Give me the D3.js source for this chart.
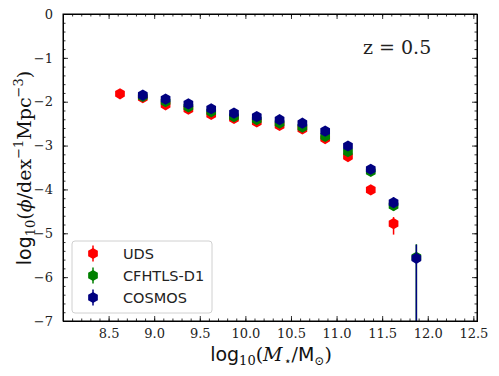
<!doctype html>
<html>
<head>
<meta charset="utf-8">
<script src="https://d3js.org/d3.v7.min.js"></script>
<style>
  body { margin: 0; background: #fff; }
  .tick text { font-family: "DejaVu Serif", serif; font-size: 13px; }
</style>
</head>
<body>
<svg id="chart" width="499" height="376"></svg>
<script>
// log10 stellar mass bin centres
var massUDS = [8.625, 8.875, 9.125, 9.375, 9.625, 9.875, 10.125, 10.375, 10.625, 10.875, 11.125, 11.375, 11.625];
var phiUDS  = [-1.82, -1.91, -2.07, -2.17, -2.29, -2.38, -2.46, -2.54, -2.62, -2.84, -3.25, -4.01, -4.78];
var errUDSlo = [0.05, 0.05, 0.05, 0.05, 0.05, 0.05, 0.05, 0.05, 0.05, 0.05, 0.06, 0.08, 0.25];
var errUDShi = [0.05, 0.05, 0.05, 0.05, 0.05, 0.05, 0.05, 0.05, 0.05, 0.05, 0.06, 0.08, 0.15];

var massCFHT = [8.875, 9.125, 9.375, 9.625, 9.875, 10.125, 10.375, 10.625, 10.875, 11.125, 11.375, 11.625, 11.875];
var phiCFHT  = [-1.88, -2.00, -2.12, -2.23, -2.34, -2.41, -2.49, -2.58, -2.79, -3.14, -3.59, -4.37, -5.55];
var errCFHTlo = [0.05, 0.05, 0.05, 0.05, 0.05, 0.05, 0.05, 0.05, 0.05, 0.06, 0.07, 0.12, 2.0];
var errCFHThi = [0.05, 0.05, 0.05, 0.05, 0.05, 0.05, 0.05, 0.05, 0.05, 0.06, 0.07, 0.12, 0.3];

var massCOSMOS = [8.875, 9.125, 9.375, 9.625, 9.875, 10.125, 10.375, 10.625, 10.875, 11.125, 11.375, 11.625, 11.875];
var phiCOSMOS  = [-1.85, -1.94, -2.05, -2.16, -2.26, -2.34, -2.41, -2.49, -2.67, -3.01, -3.54, -4.30, -5.57];
var errCOSMOSlo = [0.05, 0.05, 0.05, 0.05, 0.05, 0.05, 0.05, 0.05, 0.05, 0.06, 0.07, 0.12, 2.0];
var errCOSMOShi = [0.05, 0.05, 0.05, 0.05, 0.05, 0.05, 0.05, 0.05, 0.05, 0.06, 0.07, 0.12, 0.31];

var seriesNames = ["UDS", "CFHTLS-D1", "COSMOS"];
var seriesColors = ["#ff0000", "#008000", "#000080"];

var xTicks = [8.5, 9.0, 9.5, 10.0, 10.5, 11.0, 11.5, 12.0, 12.5];
var yTicks = [0, -1, -2, -3, -4, -5, -6, -7];

var series = [
    {name: seriesNames[0], color: seriesColors[0], x: massUDS, y: phiUDS, lo: errUDSlo, hi: errUDShi},
    {name: seriesNames[1], color: seriesColors[1], x: massCFHT, y: phiCFHT, lo: errCFHTlo, hi: errCFHThi},
    {name: seriesNames[2], color: seriesColors[2], x: massCOSMOS, y: phiCOSMOS, lo: errCOSMOSlo, hi: errCOSMOShi}
];

var margin = {top: 14, right: 22, bottom: 55, left: 63},
    width = 499, height = 376;

var svg = d3.select("#chart");

var x = d3.scaleLinear().domain([8.0, 12.54]).range([margin.left, width - margin.right]);
var y = d3.scaleLinear().domain([-7, 0]).range([height - margin.bottom, margin.top]);

// clip
svg.append("clipPath").attr("id", "clip")
    .append("rect")
    .attr("x", margin.left).attr("y", margin.top)
    .attr("width", x.range()[1] - margin.left)
    .attr("height", y.range()[0] - margin.top);

// hexagon, pointy top
var r = 5.6;
var hex = d3.range(6).map(function(i) {
    var a = Math.PI / 3 * i - Math.PI / 2;
    return [r * Math.cos(a), r * Math.sin(a)];
});
var hexPath = "M" + hex.map(p => p[0].toFixed(2) + "," + p[1].toFixed(2)).join("L") + "Z";

var plot = svg.append("g").attr("clip-path", "url(#clip)");

series.forEach(function(s) {
    var g = plot.append("g");
    var pts = s.x.map((d, i) => ({x: d, y: s.y[i], lo: s.lo[i], hi: s.hi[i]}));
    g.selectAll("line")
        .data(pts)
        .enter().append("line")
        .attr("x1", d => x(d.x)).attr("x2", d => x(d.x))
        .attr("y1", d => y(d.y + d.hi)).attr("y2", d => y(d.y - d.lo))
        .attr("stroke", s.color)
        .attr("stroke-width", 1.5);
    g.selectAll("path")
        .data(pts)
        .enter().append("path")
        .attr("d", hexPath)
        .attr("transform", d => `translate(${x(d.x)},${y(d.y)})`)
        .attr("fill", s.color);
});

// axes, ticks pointing in on all four sides
function minor(scale, step) {
    var dom = scale.domain();
    var lo = Math.ceil(Math.min(dom[0], dom[1]) / step - 1e-6), hi = Math.floor(Math.max(dom[0], dom[1]) / step + 1e-6);
    return d3.range(lo, hi + 1).map(k => +(k * step).toFixed(3));
}

var fmtX = d => d.toFixed(1);
var fmtY = d => d3.format("d")(d).replace("-", "\u2212");

var xb = y.range()[0], xt = y.range()[1], yl = x.range()[0], yr = x.range()[1];

svg.append("g").attr("transform", `translate(0,${xb})`)
    .call(d3.axisBottom(x).tickValues(minor(x, 0.1)).tickSize(-2.5).tickFormat(""));
svg.append("g").attr("transform", `translate(0,${xb})`)
    .call(d3.axisBottom(x).tickValues(xTicks).tickSize(-5).tickPadding(8).tickFormat(fmtX));
svg.append("g").attr("transform", `translate(0,${xt})`)
    .call(d3.axisTop(x).tickValues(minor(x, 0.1)).tickSize(-2.5).tickFormat(""));
svg.append("g").attr("transform", `translate(0,${xt})`)
    .call(d3.axisTop(x).tickValues(xTicks).tickSize(-5).tickFormat(""));

svg.append("g").attr("transform", `translate(${yl},0)`)
    .call(d3.axisLeft(y).tickValues(minor(y, 0.2)).tickSize(-2.5).tickFormat(""));
svg.append("g").attr("transform", `translate(${yl},0)`)
    .call(d3.axisLeft(y).tickValues(yTicks).tickSize(-5).tickPadding(10).tickFormat(fmtY));
svg.append("g").attr("transform", `translate(${yr},0)`)
    .call(d3.axisRight(y).tickValues(minor(y, 0.2)).tickSize(-2.5).tickFormat(""));
svg.append("g").attr("transform", `translate(${yr},0)`)
    .call(d3.axisRight(y).tickValues(yTicks).tickSize(-5).tickFormat(""));

svg.selectAll(".domain").attr("stroke", "#000").attr("stroke-width", 1);
svg.selectAll(".tick line").attr("stroke", "#000").attr("stroke-width", 0.8);
svg.selectAll(".tick text").attr("fill", "#222");

// frame
svg.append("rect")
    .attr("x", yl).attr("y", xt)
    .attr("width", yr - yl).attr("height", xb - xt)
    .attr("fill", "none").attr("stroke", "#000").attr("stroke-width", 1);

// redshift label
svg.append("text")
    .attr("x", 363).attr("y", 54)
    .style("font-family", "DejaVu Serif, serif")
    .style("font-size", "19px")
    .attr("fill", "#222")
    .text("z = 0.5");

// legend
var leg = svg.append("g");
leg.append("rect")
    .attr("x", 72).attr("y", 241).attr("width", 140).attr("height", 72)
    .attr("rx", 3).attr("fill", "#fff").attr("fill-opacity", 0.8)
    .attr("stroke", "#d0d0d0").attr("stroke-width", 1);
series.forEach(function(s, i) {
    var cy = 253.5 + i * 22;
    var item = leg.append("g").attr("transform", `translate(93,${cy})`);
    item.append("line").attr("y1", -8).attr("y2", 8)
        .attr("stroke", s.color).attr("stroke-width", 1.5);
    item.append("path").attr("d", hexPath).attr("fill", s.color);
    leg.append("text")
        .attr("x", 123).attr("y", cy + 5.5)
        .style("font-family", "DejaVu Sans, sans-serif")
        .style("font-size", "14.5px")
        .attr("fill", "#222")
        .text(s.name);
});

// axis labels
var xl = svg.append("text")
    .attr("x", 271).attr("y", 361)
    .attr("text-anchor", "middle")
    .style("font-size", "19px")
    .attr("fill", "#111");
xl.append("tspan").style("font-family", "DejaVu Sans, sans-serif").text("log");
xl.append("tspan").style("font-family", "DejaVu Serif, serif").style("font-size", "13px").attr("baseline-shift", "-4").text("10");
xl.append("tspan").style("font-family", "DejaVu Serif, serif").text("(");
xl.append("tspan").style("font-family", "DejaVu Serif, serif").style("font-style", "italic").text("M");
xl.append("tspan").style("font-family", "DejaVu Serif, serif").style("font-size", "12px").attr("baseline-shift", "-4").attr("dx", 1).text("\u22c6");
xl.append("tspan").style("font-family", "DejaVu Serif, serif").text("/");
xl.append("tspan").style("font-family", "DejaVu Sans, sans-serif").text("M");
xl.append("tspan").style("font-family", "DejaVu Serif, serif").style("font-size", "12px").attr("baseline-shift", "-4").text("\u2299");
xl.append("tspan").style("font-family", "DejaVu Serif, serif").text(")");

var ylab = svg.append("text")
    .attr("transform", "translate(31,168) rotate(-90)")
    .attr("text-anchor", "middle")
    .style("font-size", "19px")
    .attr("fill", "#111");
ylab.append("tspan").style("font-family", "DejaVu Sans, sans-serif").text("log");
ylab.append("tspan").style("font-family", "DejaVu Serif, serif").style("font-size", "13px").attr("baseline-shift", "-4").text("10");
ylab.append("tspan").style("font-family", "DejaVu Serif, serif").text("(");
ylab.append("tspan").style("font-family", "DejaVu Serif, serif").style("font-style", "italic").text("\u03d5");
ylab.append("tspan").style("font-family", "DejaVu Serif, serif").text("/dex");
ylab.append("tspan").style("font-family", "DejaVu Serif, serif").style("font-size", "13px").attr("baseline-shift", "8").text("\u22121");
ylab.append("tspan").style("font-family", "DejaVu Serif, serif").text("Mpc");
ylab.append("tspan").style("font-family", "DejaVu Serif, serif").style("font-size", "13px").attr("baseline-shift", "8").text("\u22123");
ylab.append("tspan").style("font-family", "DejaVu Serif, serif").text(")");
</script>
</body>
</html>
